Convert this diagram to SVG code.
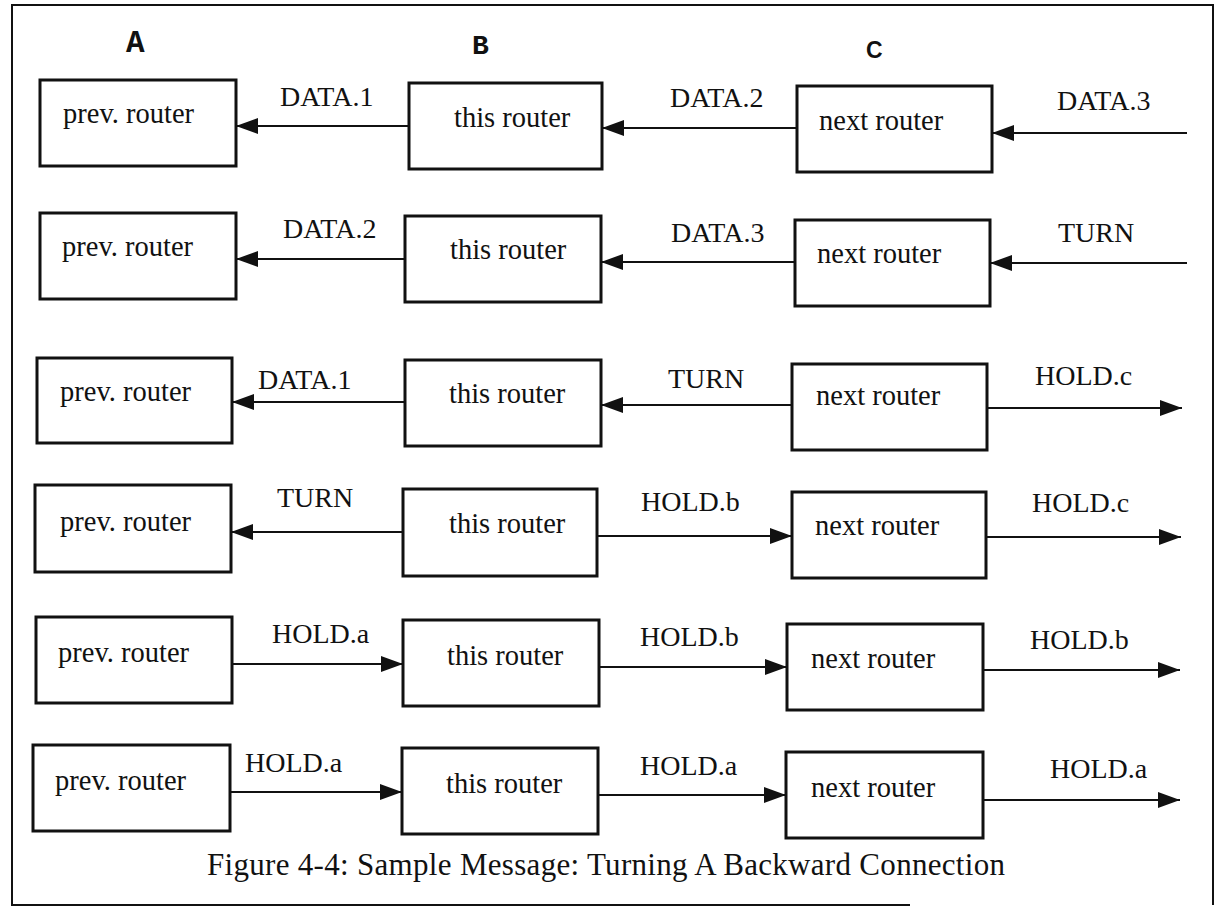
<svg xmlns="http://www.w3.org/2000/svg" width="1217" height="907" viewBox="0 0 1217 907">
<defs>
<marker id="ah" markerUnits="userSpaceOnUse" markerWidth="24" markerHeight="18" refX="22" refY="8" orient="auto">
<path d="M0,0 L22,8 L0,16 Z" fill="#111"/>
</marker>
<style>
.box{fill:#fff;stroke:#111;stroke-width:3}
.bt{font-family:"Liberation Serif","Times New Roman",serif;font-size:28.5px;fill:#111}
.lb{font-family:"Liberation Serif","Times New Roman",serif;font-size:28px;fill:#111}
.col{font-family:"Liberation Mono","Courier New",monospace;font-weight:bold;fill:#111}
.cap{font-family:"Liberation Serif","Times New Roman",serif;font-size:31px;fill:#111}
.c line{stroke:#111;stroke-width:2;marker-end:url(#ah)}
</style>
</defs>
<rect width="1217" height="907" fill="#fff"/>
<path d="M910,905 L12,905 L12,5 L1213,5 L1213,905" fill="none" stroke="#111" stroke-width="2"/>
<g id="columns">
<text class="col" x="126" y="52" font-size="31">A</text>
<text class="col" x="472" y="54" font-size="28">B</text>
<text x="866" y="58" font-family="Liberation Sans, Arial, sans-serif" font-weight="bold" font-size="23" fill="#111">C</text>
</g>
<g id="row1">
<g id="r1-prev"><rect class="box" x="40" y="80" width="196" height="86"/><text class="bt" x="63" y="123">prev. router</text></g>
<g id="r1-this"><rect class="box" x="409" y="83" width="193" height="86"/><text class="bt" x="454" y="127">this router</text></g>
<g id="r1-next"><rect class="box" x="797" y="86" width="195" height="86"/><text class="bt" x="819" y="130">next router</text></g>
</g>
<g id="row2">
<g id="r2-prev"><rect class="box" x="40" y="213" width="196" height="86"/><text class="bt" x="62" y="256">prev. router</text></g>
<g id="r2-this"><rect class="box" x="405" y="216" width="196" height="86"/><text class="bt" x="450" y="259">this router</text></g>
<g id="r2-next"><rect class="box" x="795" y="220" width="195" height="86"/><text class="bt" x="817" y="263">next router</text></g>
</g>
<g id="row3">
<g id="r3-prev"><rect class="box" x="37" y="358" width="195" height="85"/><text class="bt" x="60" y="401">prev. router</text></g>
<g id="r3-this"><rect class="box" x="405" y="360" width="196" height="86"/><text class="bt" x="449" y="403">this router</text></g>
<g id="r3-next"><rect class="box" x="792" y="364" width="195" height="86"/><text class="bt" x="816" y="405">next router</text></g>
</g>
<g id="row4">
<g id="r4-prev"><rect class="box" x="35" y="485" width="196" height="87"/><text class="bt" x="60" y="531">prev. router</text></g>
<g id="r4-this"><rect class="box" x="403" y="489" width="194" height="87"/><text class="bt" x="449" y="533">this router</text></g>
<g id="r4-next"><rect class="box" x="792" y="492" width="194" height="86"/><text class="bt" x="815" y="535">next router</text></g>
</g>
<g id="row5">
<g id="r5-prev"><rect class="box" x="36" y="617" width="196" height="86"/><text class="bt" x="58" y="662">prev. router</text></g>
<g id="r5-this"><rect class="box" x="403" y="620" width="196" height="86"/><text class="bt" x="447" y="665">this router</text></g>
<g id="r5-next"><rect class="box" x="787" y="624" width="196" height="86"/><text class="bt" x="811" y="668">next router</text></g>
</g>
<g id="row6">
<g id="r6-prev"><rect class="box" x="33" y="745" width="197" height="86"/><text class="bt" x="55" y="790">prev. router</text></g>
<g id="r6-this"><rect class="box" x="402" y="748" width="196" height="86"/><text class="bt" x="446" y="793">this router</text></g>
<g id="r6-next"><rect class="box" x="786" y="752" width="197" height="86"/><text class="bt" x="811" y="797">next router</text></g>
</g>
<g id="connectors" class="c">
<line x1="409" y1="126" x2="236" y2="126"/>
<line x1="797" y1="128" x2="602" y2="128"/>
<line x1="1187" y1="133" x2="992" y2="133"/>
<line x1="405" y1="259" x2="236" y2="259"/>
<line x1="795" y1="262" x2="601" y2="262"/>
<line x1="1187" y1="263" x2="990" y2="263"/>
<line x1="405" y1="402" x2="232" y2="402"/>
<line x1="792" y1="405" x2="601" y2="405"/>
<line x1="987" y1="408" x2="1182" y2="408"/>
<line x1="403" y1="532" x2="231" y2="532"/>
<line x1="597" y1="536" x2="792" y2="536"/>
<line x1="986" y1="537" x2="1181" y2="537"/>
<line x1="232" y1="664" x2="403" y2="664"/>
<line x1="599" y1="667" x2="787" y2="667"/>
<line x1="983" y1="670" x2="1180" y2="670"/>
<line x1="230" y1="792" x2="402" y2="792"/>
<line x1="598" y1="795" x2="786" y2="795"/>
<line x1="983" y1="800" x2="1180" y2="800"/>
</g>
<g id="labels">
<text class="lb" x="280" y="106">DATA.1</text>
<text class="lb" x="670" y="107">DATA.2</text>
<text class="lb" x="1057" y="110">DATA.3</text>
<text class="lb" x="283" y="238">DATA.2</text>
<text class="lb" x="671" y="242">DATA.3</text>
<text class="lb" x="1058" y="242">TURN</text>
<text class="lb" x="258" y="389">DATA.1</text>
<text class="lb" x="668" y="388">TURN</text>
<text class="lb" x="1035" y="385">HOLD.c</text>
<text class="lb" x="277" y="507">TURN</text>
<text class="lb" x="641" y="511">HOLD.b</text>
<text class="lb" x="1032" y="512">HOLD.c</text>
<text class="lb" x="272" y="643">HOLD.a</text>
<text class="lb" x="640" y="646">HOLD.b</text>
<text class="lb" x="1030" y="649">HOLD.b</text>
<text class="lb" x="245" y="772">HOLD.a</text>
<text class="lb" x="640" y="775">HOLD.a</text>
<text class="lb" x="1050" y="778">HOLD.a</text>
</g>
<text class="cap" x="207" y="875" textLength="798" lengthAdjust="spacing">Figure 4-4: Sample Message: Turning A Backward Connection</text>
</svg>
